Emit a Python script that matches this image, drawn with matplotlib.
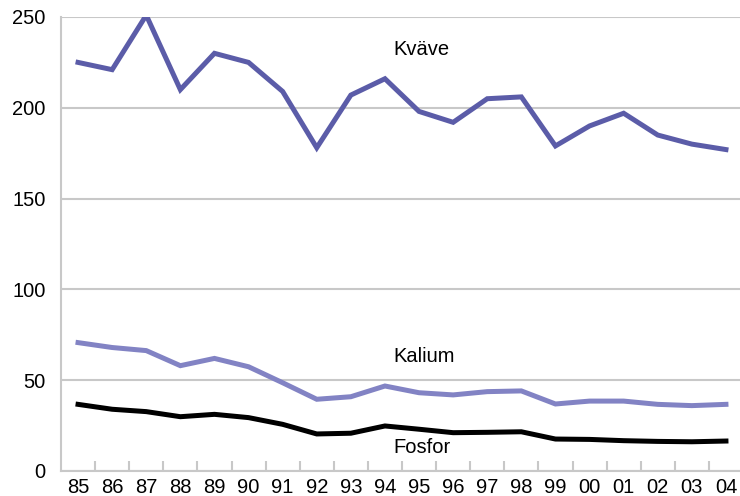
import matplotlib.pyplot as plt
import numpy as np

years = ["85", "86", "87", "88", "89", "90", "91", "92", "93", "94",
         "95", "96", "97", "98", "99", "00", "01", "02", "03", "04"]
kvave = [225, 221, 251, 210, 230, 225, 209, 178, 207, 216,
         198, 192, 205, 206, 179, 190, 197, 185, 180, 177]
kalium = [70.7, 68, 66.3, 58, 62, 57.4, 48.6, 39.5, 40.9, 46.8,
          43.1, 41.9, 43.7, 44.1, 36.9, 38.5, 38.5, 36.7, 36, 36.7]
fosfor = [36.7, 34, 32.7, 29.9, 31.2, 29.4, 25.7, 20.4, 20.8, 24.8,
          23, 21.1, 21.3, 21.6, 17.6, 17.4, 16.7, 16.3, 16.1, 16.5]
yticks = [0, 50, 100, 150, 200, 250]

plt.rcParams["font.family"] = ["Liberation Sans", "DejaVu Sans"]

fig = plt.figure(figsize=(7.4, 4.96), dpi=100)
ax = fig.add_axes([61 / 740, 25 / 496, 682 / 740, 454 / 496])

x = np.arange(len(years))
ax.plot(x, kvave, color="#5b5ca8", lw=3.6, solid_joinstyle="miter", zorder=3)
ax.plot(x, kalium, color="#8283c4", lw=3.6, solid_joinstyle="miter", zorder=3)
ax.plot(x, fosfor, color="#000000", lw=3.6, solid_joinstyle="miter", zorder=3)

ax.set_xlim(-0.5, len(years) - 0.5)
ax.set_ylim(0, 250)
ax.set_yticks(yticks)
ax.set_xticks(x)
ax.set_xticklabels(years)
ax.set_xticks(x[:-1] + 0.5, minor=True)
ax.tick_params(axis="both", which="major", length=0, labelsize=14.5)
ax.tick_params(axis="y", pad=11)
ax.tick_params(axis="x", pad=5)
ax.tick_params(axis="x", which="minor", direction="in", length=7, width=1.5, color="#c8c8c8")

ax.grid(axis="y", color="#c8c8c8", lw=1.5, zorder=0)
for side in ["top", "right"]:
    ax.spines[side].set_visible(False)
for side in ["left", "bottom"]:
    ax.spines[side].set_color("#c8c8c8")
    ax.spines[side].set_linewidth(1.5)

ax.text(9.25, 232, "Kväve", fontsize=14.5, va="center")
ax.text(9.25, 63, "Kalium", fontsize=14.5, va="center")
ax.text(9.25, 13, "Fosfor", fontsize=14.5, va="center")

fig.savefig("out.png", dpi=100)
